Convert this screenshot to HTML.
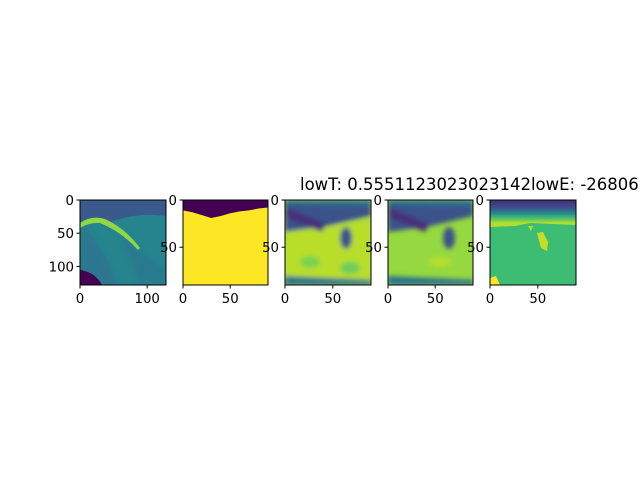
<!DOCTYPE html>
<html><head><meta charset="utf-8"><style>
html,body{margin:0;padding:0;background:#fff}
svg{display:block;font-family:"DejaVu Sans","Liberation Sans",sans-serif}
text{font-size:13.3px;fill:#000}
</style></head><body>
<svg id="fig" width="640" height="480" viewBox="0 0 640 480">
<defs>
<linearGradient id="g5" x1="0" y1="0" x2="0" y2="1">
<stop offset="0" stop-color="#472d7b"/><stop offset="0.35" stop-color="#3b528b"/><stop offset="0.6" stop-color="#21918c"/><stop offset="0.85" stop-color="#5ec962"/><stop offset="1" stop-color="#b5de2b"/>
</linearGradient>
<filter id="blur"><feGaussianBlur stdDeviation="2.5"/></filter>
<clipPath id="c1"><rect x="80" y="200" width="86" height="85"/></clipPath>
<clipPath id="c3"><rect x="285" y="200" width="86" height="85"/></clipPath>
<clipPath id="c4"><rect x="388" y="200" width="85" height="85"/></clipPath>
<clipPath id="c5"><rect x="490" y="200" width="86" height="85"/></clipPath>
</defs>
<text x="300" y="190" style="font-size:16.5px">lowT: 0.5551123023023142lowE: -26806</text>

<g clip-path="url(#c1)">
<rect x="80" y="200" width="86" height="85" fill="#3b5a8c"/>
<path d="M80,222 Q92,215 105,219 L112,222 Q135,212 166,216 L166,285 L80,285Z" fill="#25848e"/>
<g filter="url(#blur)">
<path d="M82,225 Q100,240 118,285 L80,285 Z" fill="#2c728e" opacity="0.7"/>
<path d="M120,235 Q140,250 166,270 L166,285 L140,285Z" fill="#2a788e" opacity="0.7"/>
</g>
<path d="M80,223 Q92,215 105,219 Q125,228 140,248 L138,250 Q122,232 100,223 Q90,222 80,228Z" fill="#8fd744"/>
<path d="M80,270 Q95,272 102,285 L80,285Z" fill="#440154"/>
</g>
<g id="p2"></g>
<g clip-path="url(#c3)">
<rect x="285" y="200" width="86" height="85" fill="#a5db36"/>
<g filter="url(#blur)">
<path d="M285,230 L325,228 L371,218 L371,285 L285,285Z" fill="#b8de29"/>
<path d="M285,200 L371,200 L371,216 L328,226 L285,232Z" fill="#3b528b"/>
<path d="M285,200 L371,200 L371,206 L285,204Z" fill="#2c728e"/>
<path d="M287,208 L326,224 L322,232 L287,218Z" fill="#472d7b"/>
<ellipse cx="346" cy="238" rx="6" ry="11" fill="#3b528b"/>
<ellipse cx="310" cy="262" rx="10" ry="6" fill="#7ad151"/>
<ellipse cx="350" cy="268" rx="10" ry="6" fill="#6ccd5a"/>
<path d="M285,276 L371,280 L371,285 L285,285Z" fill="#2c728e"/>
</g>
</g>
<g clip-path="url(#c4)">
<rect x="388" y="200" width="85" height="85" fill="#95d840"/>
<g filter="url(#blur)">
<path d="M388,200 L473,200 L473,216 L431,226 L388,232Z" fill="#3b528b"/>
<path d="M388,200 L473,200 L473,206 L388,204Z" fill="#2c728e"/>
<path d="M390,208 L429,224 L425,232 L390,218Z" fill="#472d7b"/>
<ellipse cx="449" cy="238" rx="6" ry="11" fill="#3b528b"/>
<ellipse cx="440" cy="262" rx="12" ry="5" fill="#b5de2b"/>
<path d="M388,276 L473,280 L473,285 L388,285Z" fill="#2c728e"/>
</g>
</g>
<g clip-path="url(#c5)">
<rect x="490" y="200" width="86" height="85" fill="#3dbc74"/>
<rect x="490" y="200" width="86" height="23" fill="url(#g5)"/>
<path d="M490,223 L576,223 L576,225 L530,223 L515,226 L490,227Z" fill="#b5de2b"/>
<path d="M528,226 L531,231 L533,226Z" fill="#b5de2b"/>
<path d="M537,233 L543,232 L548,242 L547,251 L541,248Z" fill="#c2df23"/>
<path d="M490,278 L496,276 L500,285 L490,285Z" fill="#fde725"/>
</g>
<g id="axes" fill="none" stroke="#000" stroke-width="1"></g>
<g id="ticks"></g>
<script>
// mask boundary (row index of purple/yellow edge) per column sample
const maskCols=[0,10,20,30,40,50,60,70,80,90];
const maskEdge=[11,13,16,19,17,14,12,11,9,8];
const panels=[
 {x:80,w:86,xmax:128,ymax:128,xt:[0,100],yt:[0,50,100]},
 {x:183,w:85,xmax:90,ymax:90,xt:[0,50],yt:[0,50]},
 {x:285,w:86,xmax:90,ymax:90,xt:[0,50],yt:[0,50]},
 {x:388,w:85,xmax:90,ymax:90,xt:[0,50],yt:[0,50]},
 {x:490,w:86,xmax:90,ymax:90,xt:[0,50],yt:[0,50]}
];
const NS="http://www.w3.org/2000/svg";
const y0=200,h=85;
function mk(t,a,p){const e=document.createElementNS(NS,t);for(const k in a)e.setAttribute(k,a[k]);p.appendChild(e);return e;}
const p2=document.getElementById('p2');
const P=panels[1];
const sx=v=>P.x+v/P.xmax*P.w, sy=v=>y0+v/P.ymax*h;
const bg=mk('rect',{x:P.x,y:y0,width:P.w,height:h,fill:'#440154'},p2);


let d='M'+sx(0)+','+sy(maskEdge[0]);
maskCols.forEach((c,i)=>{d+=' L'+sx(c)+','+sy(maskEdge[i]);});
d+=' L'+(P.x+P.w)+','+sy(maskEdge[maskEdge.length-1])+' L'+(P.x+P.w)+','+(y0+h)+' L'+P.x+','+(y0+h)+'Z';
const fg=mk('path',{d:d,fill:'#fde725'},p2);


const ax=document.getElementById('axes'),tk=document.getElementById('ticks');
panels.forEach((p,i)=>{
 const r=mk('rect',{x:p.x,y:y0,width:p.w,height:h},ax);
 
 
 p.xt.forEach(v=>{const X=p.x+v/p.xmax*p.w;
  mk('line',{x1:X,x2:X,y1:y0+h,y2:y0+h+3.5,stroke:'#000'},tk);
  const t=mk('text',{x:X,y:y0+h+18,'text-anchor':'middle'},tk);t.textContent=v;
  
  });
 p.yt.forEach(v=>{const Y=y0+v/p.ymax*h;
  mk('line',{x1:p.x-3.5,x2:p.x,y1:Y,y2:Y,stroke:'#000'},tk);
  const t=mk('text',{x:p.x-6,y:Y+5,'text-anchor':'end'},tk);t.textContent=v;
  
  });
});
</script>
</svg>
</body></html>
